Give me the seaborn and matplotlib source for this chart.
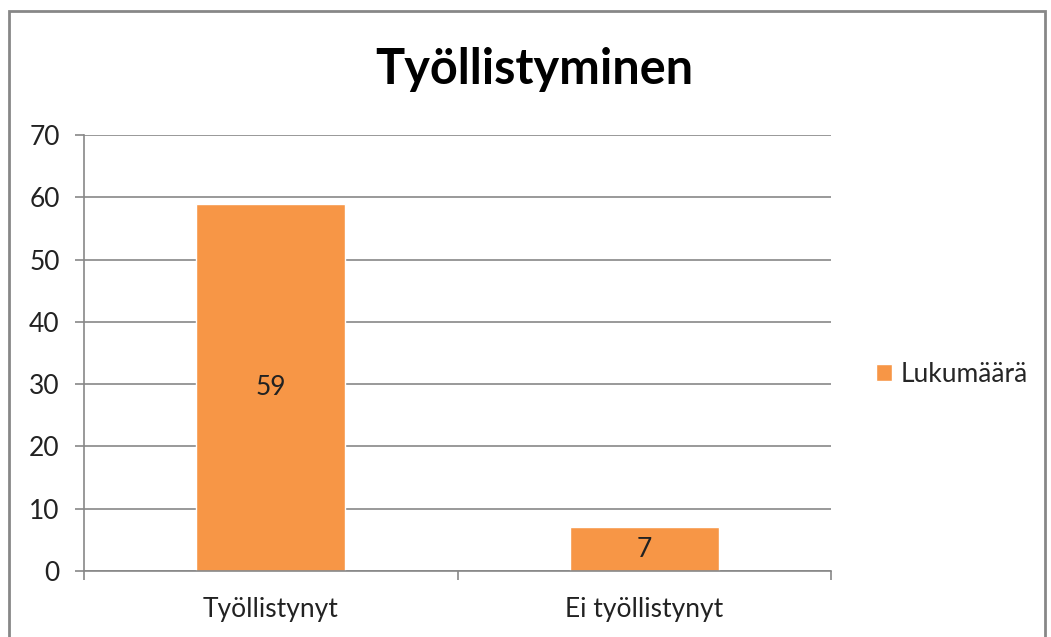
import matplotlib
matplotlib.use("Agg")
import matplotlib.pyplot as plt
from matplotlib.patches import Rectangle
import seaborn as sns
import pandas as pd

categories = ["Työllistynyt", "Ei työllistynyt"]
values = [59, 7]
series = "Lukumäärä"
title = "Työllistyminen"

df = pd.DataFrame({"kategoria": categories, "arvo": values, "sarja": [series] * len(categories)})

sns.set_theme(style="white")
plt.rcParams["font.family"] = ["Lato", "DejaVu Sans"]

fig = plt.figure(figsize=(10.51, 6.37), dpi=100)
ax = fig.add_axes([84 / 1051, 1 - 571 / 637, (831 - 84) / 1051, (571 - 135) / 637])

sns.barplot(data=df, x="kategoria", y="arvo", hue="sarja", palette=["#F79646"],
            width=0.4, dodge=False, ax=ax, saturation=1)

for c in ax.containers:
    ax.bar_label(c, label_type="center", fontsize=19, color="#222222")

grid = "#878787"
ax.set_ylim(0, 70)
ax.set_xlim(-0.5, 1.5)
ax.set_yticks(range(0, 71, 10))
ax.yaxis.grid(True, color=grid, linewidth=1.2)
ax.set_axisbelow(True)
ax.set_xlabel("")
ax.set_ylabel("")
for s in ["top", "right"]:
    ax.spines[s].set_visible(False)
for s in ["left", "bottom"]:
    ax.spines[s].set_color(grid)
    ax.spines[s].set_linewidth(1.2)

# category boundaries as ticks, labels on minor ticks
ax.set_xticks([-0.5, 0.5, 1.5])
ax.set_xticklabels([])
ax.set_xticks([0, 1], minor=True)
ax.set_xticklabels(categories, minor=True)
ax.tick_params(axis="x", which="major", length=6.5, color=grid, width=1.2, bottom=True, direction="out")
ax.tick_params(axis="x", which="minor", length=0, labelsize=19, pad=19, colors="#222222")
ax.tick_params(axis="y", length=6.5, color=grid, width=1.2, left=True, labelsize=19, pad=11, labelcolor="#222222")

ax.legend(loc="center left", bbox_to_anchor=(852 / 1051, 1 - 374 / 637), bbox_transform=fig.transFigure,
          frameon=False, fontsize=19, handlelength=0.6, handleheight=0.6, handletextpad=0.35)

fig.text(534 / 1051, 1 - 70 / 637, title, ha="center", va="center", fontsize=35, fontweight="bold", color="#000000")

fig.patches.append(Rectangle((9 / 1051, -0.05), (1045 - 9) / 1051, 1.05 - 11 / 637,
                             transform=fig.transFigure, fill=False, edgecolor=grid, linewidth=2))

fig.savefig("out.png", dpi=100)
